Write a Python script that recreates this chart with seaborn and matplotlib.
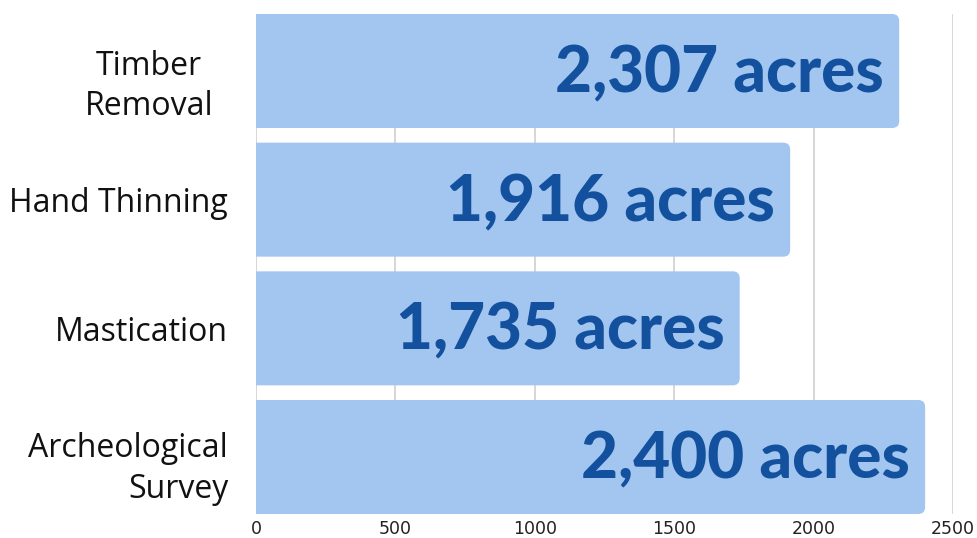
import matplotlib
matplotlib.use("Agg")
import matplotlib.pyplot as plt
import matplotlib.transforms as mtransforms
from matplotlib.patches import FancyBboxPatch
import seaborn as sns
import pandas as pd

categories = ["Timber\nRemoval", "Hand Thinning", "Mastication", "Archeological\nSurvey"]
acres = [2307, 1916, 1735, 2400]
value_labels = ["2,307 acres", "1,916 acres", "1,735 acres", "2,400 acres"]
x_ticks = [0, 500, 1000, 1500, 2000, 2500]

df = pd.DataFrame({"category": categories, "acres": acres})

sns.set_theme(style="white")
fig = plt.figure(figsize=(9.78, 5.38), dpi=100)
L, R, T, B = 256, 953, 14, 514
ax = fig.add_axes([L/978, 1-B/538, (R-L)/978, (B-T)/538])

bar_color = "#A2C6F0"
sns.barplot(data=df, x="acres", y="category", orient="h", color=bar_color,
            width=0.886, saturation=1, ax=ax, zorder=2)

# round the right-hand bar corners, using the library's own bar geometry
px_per_x = (R-L)/2500
px_per_y = (B-T)/3.886
for p in list(ax.patches):
    x0, y0 = p.get_x(), p.get_y()
    w, h = p.get_width(), p.get_height()
    rr = 7 / px_per_x
    ext = 30 / px_per_x
    fb = FancyBboxPatch((x0 - ext, y0), w + ext, h,
                        boxstyle=f"round,pad=0,rounding_size={rr}",
                        mutation_aspect=px_per_x/px_per_y,
                        facecolor=bar_color, edgecolor="none", zorder=2)
    ax.add_patch(fb)
    p.set_visible(False)

ax.set_xlim(0, 2500)
ax.set_ylim(3.443, -0.443)
ax.set_xticks(x_ticks)
ax.set_xticklabels([str(t) for t in x_ticks], fontsize=12.5,
                   family=["Liberation Sans Narrow", "DejaVu Sans"], color="#222222")
ax.xaxis.grid(True, color="#d0d0d0", linewidth=1.2, zorder=0)
ax.set_axisbelow(True)
for s in ax.spines.values():
    s.set_visible(False)
ax.tick_params(axis="x", length=0, pad=4)
ax.tick_params(axis="y", length=0, pad=20)
ax.set_xlabel("")
ax.set_ylabel("")

for lab in ax.get_yticklabels():
    lab.set_fontsize(23)
    lab.set_family(["Open Sans", "DejaVu Sans"])
    lab.set_color("#111111")
    lab.set_ha("right")
    lab.set_multialignment("right")
    lab.set_linespacing(1.3)
    if lab.get_text().startswith("Timber"):
        lab.set_multialignment("center")
        lab.set_transform(lab.get_transform() + mtransforms.ScaledTranslation(-15/100, -8/100, fig.dpi_scale_trans))
    elif lab.get_text().startswith("Archeological"):
        lab.set_transform(lab.get_transform() + mtransforms.ScaledTranslation(0, -4/100, fig.dpi_scale_trans))

for i, (v, t) in enumerate(zip(acres, value_labels)):
    ax.text(v, i, t, ha="right", va="center",
            fontsize=46, fontweight="black", family=["Lato", "DejaVu Sans"],
            color="#13519E", zorder=3,
            transform=ax.transData + mtransforms.ScaledTranslation(-15/100, -3/100, fig.dpi_scale_trans))

fig.savefig("out.png", dpi=100)
